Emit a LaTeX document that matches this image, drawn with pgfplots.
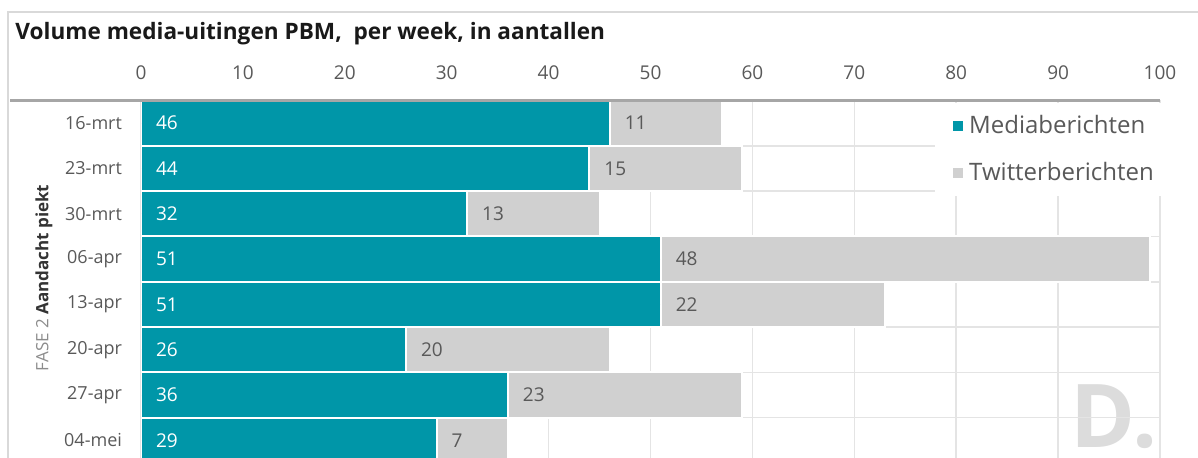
\documentclass[border=0pt]{standalone}
\usepackage{pgfplots}
\pgfplotsset{compat=1.18}
\usepackage{pgfplotstable}
\usepackage{fontspec}
\setmainfont{Open Sans}
\definecolor{teal1}{HTML}{0096A8}
\definecolor{graybar}{HTML}{D0D0D0}
\definecolor{txt}{HTML}{595959}
\definecolor{gridc}{HTML}{E4E4E4}
\definecolor{axline}{HTML}{A6A6A6}
\definecolor{border}{HTML}{D9D9D9}
\definecolor{wm}{HTML}{DCDCDC}

\pgfplotstableread{
idx cat media twitter
0 16-mrt 46 11
1 23-mrt 44 15
2 30-mrt 32 13
3 06-apr 51 48
4 13-apr 51 22
5 20-apr 26 20
6 27-apr 36 23
7 04-mei 29 7
}\data

\begin{document}
\begin{tikzpicture}
% watermark
\node[anchor=base west, inner sep=0, text=wm, font=\fontsize{44}{44}\selectfont\bfseries] at (535pt,-224pt) {D.};
\begin{axis}[
  at={(70.5pt,-50.25pt)}, anchor=north west,
  scale only axis, width=509.5pt, height=178.75pt,
  stack plots=x, bar width=1,
  xmin=0, xmax=100, ymin=-0.39, ymax=7.5,
  axis line style={draw=none},
  xtick={0,10,...,100},
  xticklabel pos=upper,
  xticklabel style={anchor=base, yshift=10.25pt, text=txt, font=\fontsize{9.5}{11}\selectfont},
  ytick={0,...,7},
  yticklabels={04-mei,27-apr,20-apr,13-apr,06-apr,30-mrt,23-mrt,16-mrt},
  yticklabel style={anchor=east, xshift=-6pt, text=txt, font=\fontsize{9}{11}\selectfont},
  major tick length=0pt,
  tick style={draw=none},
  /pgf/number format/assume math mode=true,
  xmajorgrids,
  grid style={gridc, line width=0.8pt},
  extra y ticks={0.5,1.5,...,6.5},
  extra y tick labels={},
  extra y tick style={grid=major, grid style={gridc, line width=0.8pt}},
  legend style={at={(axis description cs:0.779,0.993)}, anchor=north west, draw=none, fill=white,
    font=\fontsize{12}{14}\selectfont, text=txt, row sep=9pt, inner xsep=8pt, inner ysep=4pt},
  legend cell align=left,
  legend image code/.code={\fill[#1] (0pt,-3pt) rectangle (6pt,3pt);},
  labelplot/.style={forget plot, stack plots=false, only marks, mark=*, mark size=0pt,
    scatter/use mapped color={draw=none, fill=none}, point meta=explicit, nodes near coords},
]
\addplot[xbar, fill=teal1, draw=white, line width=1pt] table[x=media, y expr=7-\thisrow{idx}] {\data};
\addlegendentry{Mediaberichten}
\addplot[xbar, fill=graybar, draw=white, line width=1pt] table[x=twitter, y expr=7-\thisrow{idx}] {\data};
\addlegendentry{Twitterberichten}
\addplot[labelplot,
  nodes near coords style={anchor=west, xshift=4pt, text=white, font=\fontsize{9.5}{11}\selectfont}]
  table[x expr=0, y expr=7-\thisrow{idx}, meta=media] {\data};
\addplot[labelplot,
  nodes near coords style={anchor=west, xshift=4pt, text=txt, font=\fontsize{9.5}{11}\selectfont}]
  table[x=media, y expr=7-\thisrow{idx}, meta=twitter] {\data};
\end{axis}
\draw[axline, line width=1.5pt] (5pt,-50.25pt) -- (580pt,-50.25pt);
\draw[border, line width=0.6pt] (4pt,-229pt) -- (4pt,-6pt) -- (599pt,-6pt);
\node[anchor=base west, inner sep=0, text=black!90, font=\fontsize{11.3}{13}\selectfont\bfseries] at (7.5pt,-20pt) {Volume media-uitingen PBM,\ \ per week, in aantallen};
\node[rotate=90, inner sep=0, font=\fontsize{8.5}{10}\selectfont] at (22pt,-139pt) {\textcolor{black!45}{FASE 2} \textcolor{black!80}{\bfseries Aandacht piekt}};
\pgfresetboundingbox
\path[use as bounding box] (0pt,0pt) rectangle (599pt,-229pt);
\end{tikzpicture}
\end{document}
